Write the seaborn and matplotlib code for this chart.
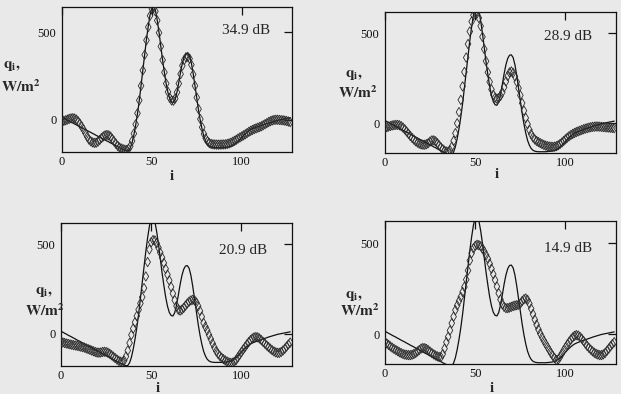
import numpy as np
import pandas as pd
import seaborn as sns
import matplotlib.pyplot as plt

# sample index i = 0..127
I = list(range(128))

# solid curve (same in every panel)
TRUE = [15, 10, 4, -1, -7, -12, -17, -23, -28, -34,
        -39, -44, -50, -55, -61, -66, -71, -77, -82, -88,
        -93, -98, -104, -109, -115, -120, -125, -131, -136, -142,
        -147, -152, -158, -163, -168, -173, -177, -175, -160, -130,
        -85, -30, 35, 110, 195, 285, 375, 460, 535, 600,
        640, 650, 625, 570, 500, 420, 340, 270, 205, 155,
        120, 103, 100, 118, 160, 215, 275, 325, 360, 378,
        380, 365, 325, 265, 195, 125, 55, -5, -55, -95,
        -122, -140, -150, -155, -157, -158, -158, -158, -158, -158,
        -157, -156, -155, -153, -150, -146, -140, -132, -122, -111,
        -100, -89, -79, -70, -62, -55, -50, -46, -42, -38,
        -35, -31, -28, -24, -21, -17, -14, -11, -8, -5,
        -2, 0, 2, 4, 6, 8, 10, 12]

# diamonds, 34.9 dB
D1 = [-10, -5, -2, 2, 6, 9, 10, 8, 2, -8,
      -22, -38, -55, -75, -95, -112, -122, -128, -131, -130,
      -124, -114, -103, -94, -88, -86, -88, -95, -108, -122,
      -136, -148, -157, -163, -167, -170, -172, -165, -150, -120,
      -78, -25, 38, 112, 195, 283, 372, 455, 530, 595,
      635, 640, 620, 568, 498, 420, 342, 272, 208, 160,
      126, 112, 110, 122, 158, 208, 262, 310, 342, 358,
      360, 350, 315, 260, 195, 128, 62, 5, -42, -80,
      -106, -122, -132, -137, -139, -140, -141, -141, -141, -140,
      -140, -139, -137, -134, -130, -125, -119, -113, -106, -100,
      -94, -88, -82, -75, -68, -62, -57, -52, -48, -44,
      -40, -36, -30, -24, -18, -12, -7, -3, 0, 1,
      1, 0, -1, -2, -4, -6, -9, -12]

# diamonds, 28.9 dB
D2 = [-27, -22, -18, -15, -12, -10, -9, -9, -11, -16,
      -24, -34, -46, -58, -70, -81, -91, -100, -107, -113,
      -117, -119, -119, -116, -110, -101, -95, -95, -100, -110,
      -122, -134, -144, -152, -157, -158, -150, -130, -98, -55,
      0, 62, 130, 205, 285, 365, 440, 510, 565, 600,
      615, 610, 585, 540, 480, 412, 345, 283, 230, 188,
      158, 142, 137, 140, 152, 172, 200, 232, 262, 282,
      288, 280, 260, 230, 195, 155, 112, 70, 30, -5,
      -36, -60, -78, -90, -98, -104, -110, -115, -120, -124,
      -127, -129, -130, -131, -130, -127, -122, -115, -107, -98,
      -89, -80, -72, -65, -59, -54, -49, -45, -41, -37,
      -33, -30, -27, -24, -22, -20, -19, -18, -18, -19,
      -20, -21, -22, -23, -24, -25, -26, -27]

# diamonds, 20.9 dB
D3 = [-44, -47, -50, -53, -55, -58, -60, -62, -64, -66,
      -68, -71, -73, -76, -80, -84, -88, -92, -96, -100,
      -103, -104, -103, -100, -99, -100, -104, -110, -118, -126,
      -134, -142, -149, -154, -156, -148, -125, -92, -50, -5,
      30, 65, 100, 135, 170, 205, 255, 320, 400, 470,
      510, 522, 520, 505, 480, 452, 425, 395, 362, 330,
      298, 262, 225, 188, 155, 135, 130, 135, 145, 158,
      170, 180, 187, 190, 187, 175, 155, 128, 96, 62,
      40, 20, -5, -28, -52, -75, -95, -110, -122, -132,
      -140, -147, -153, -158, -161, -160, -155, -145, -130, -115,
      -100, -86, -72, -58, -45, -34, -25, -19, -17, -19,
      -25, -34, -44, -54, -64, -73, -82, -90, -97, -102,
      -105, -105, -100, -92, -82, -70, -58, -48]

# diamonds, 14.9 dB
D4 = [-44, -52, -60, -68, -75, -82, -88, -94, -100, -105,
      -110, -113, -115, -116, -116, -114, -110, -104, -96, -88,
      -80, -77, -78, -82, -89, -97, -105, -112, -118, -123,
      -126, -127, -110, -80, -45, -15, 20, 60, 96, 132,
      158, 182, 205, 232, 260, 300, 350, 405, 446, 472,
      486, 492, 490, 484, 472, 455, 435, 415, 388, 360,
      330, 298, 262, 225, 190, 165, 150, 143, 143, 146,
      150, 154, 157, 159, 162, 168, 182, 192, 196, 188,
      168, 140, 110, 80, 52, 26, 3, -17, -36, -54,
      -71, -88, -105, -120, -133, -143, -140, -125, -108, -90,
      -74, -58, -43, -30, -18, -10, -6, -8, -15, -25,
      -38, -52, -65, -76, -86, -95, -103, -109, -113, -116,
      -116, -112, -104, -92, -80, -67, -55, -45]

SNR_LABELS = ['34.9 dB', '28.9 dB', '20.9 dB', '14.9 dB']
DIAMONDS = [D1, D2, D3, D4]

W, H = 621, 394
BG = '#e9e9e9'

sns.set_style('white')
plt.rcParams['font.family'] = ['Liberation Serif', 'DejaVu Serif']
plt.rcParams['mathtext.fontset'] = 'stix'


def px(x, y):
    return x / W, 1 - y / H


# panel boxes in pixels: left, top, right, bottom ; ylim
boxes = [(62, 7, 292, 152, (-183, 645)),
         (385, 12, 616, 153, (-165, 618)),
         (61, 223, 292, 366, (-178, 617)),
         (385, 221, 616, 364, (-165, 623))]
# label anchors (q_i, W/m2, i, dB right edge)
labels = [((12, 66), (21, 87), (172, 176), (270, 30)),
          ((354, 75), (358, 93), (497, 175), (592, 37)),
          ((44, 292), (45, 311), (158, 389), (267, 250)),
          ((354, 296), (360, 311), (492, 388), (592, 248))]

fig = plt.figure(figsize=(W / 100, H / 100), dpi=100, facecolor=BG)

for k, ((l, t, r, b, ylim), dvals) in enumerate(zip(boxes, DIAMONDS)):
    x0, y1 = px(l, t)
    x1, y0 = px(r, b)
    ax = fig.add_axes([x0, y0, x1 - x0, y1 - y0])
    ax.set_facecolor(BG)
    df = pd.DataFrame({'i': I, 'true': TRUE, 'est': dvals})
    sns.lineplot(data=df, x='i', y='true', ax=ax, color='#111111', lw=0.9)
    sns.scatterplot(data=df, x='i', y='est', ax=ax, marker='d', s=23,
                    facecolor='none', edgecolor='#2a2a2a', linewidth=0.6,
                    zorder=3)
    ax.set_xlim(0, 128)
    ax.set_ylim(*ylim)
    ax.set_xticks([0, 50, 100])
    ax.set_yticks([0, 500])
    ax.tick_params(direction='in', length=6, width=0.9, top=True, right=True,
                   labelsize=9, pad=4, colors='#111111')
    ax.tick_params(axis='x', pad=3)
    for s in ax.spines.values():
        s.set_color('#111111')
        s.set_linewidth(0.9)
    ax.set_xlabel('')
    ax.set_ylabel('')

    q, wm, il, db = labels[k]
    fig.text(*px(*q), r'$\mathbf{q_i,}$', fontsize=11, ha='center', va='center')
    fig.text(*px(*wm), r'$\mathbf{W/m^2}$', fontsize=11, ha='center', va='center')
    fig.text(*px(*il), 'i', fontsize=10.5, fontweight='bold', ha='center', va='center')
    fig.text(*px(*db), SNR_LABELS[k], fontsize=11, ha='right', va='center')

fig.savefig('out.png', dpi=100, facecolor=BG)
